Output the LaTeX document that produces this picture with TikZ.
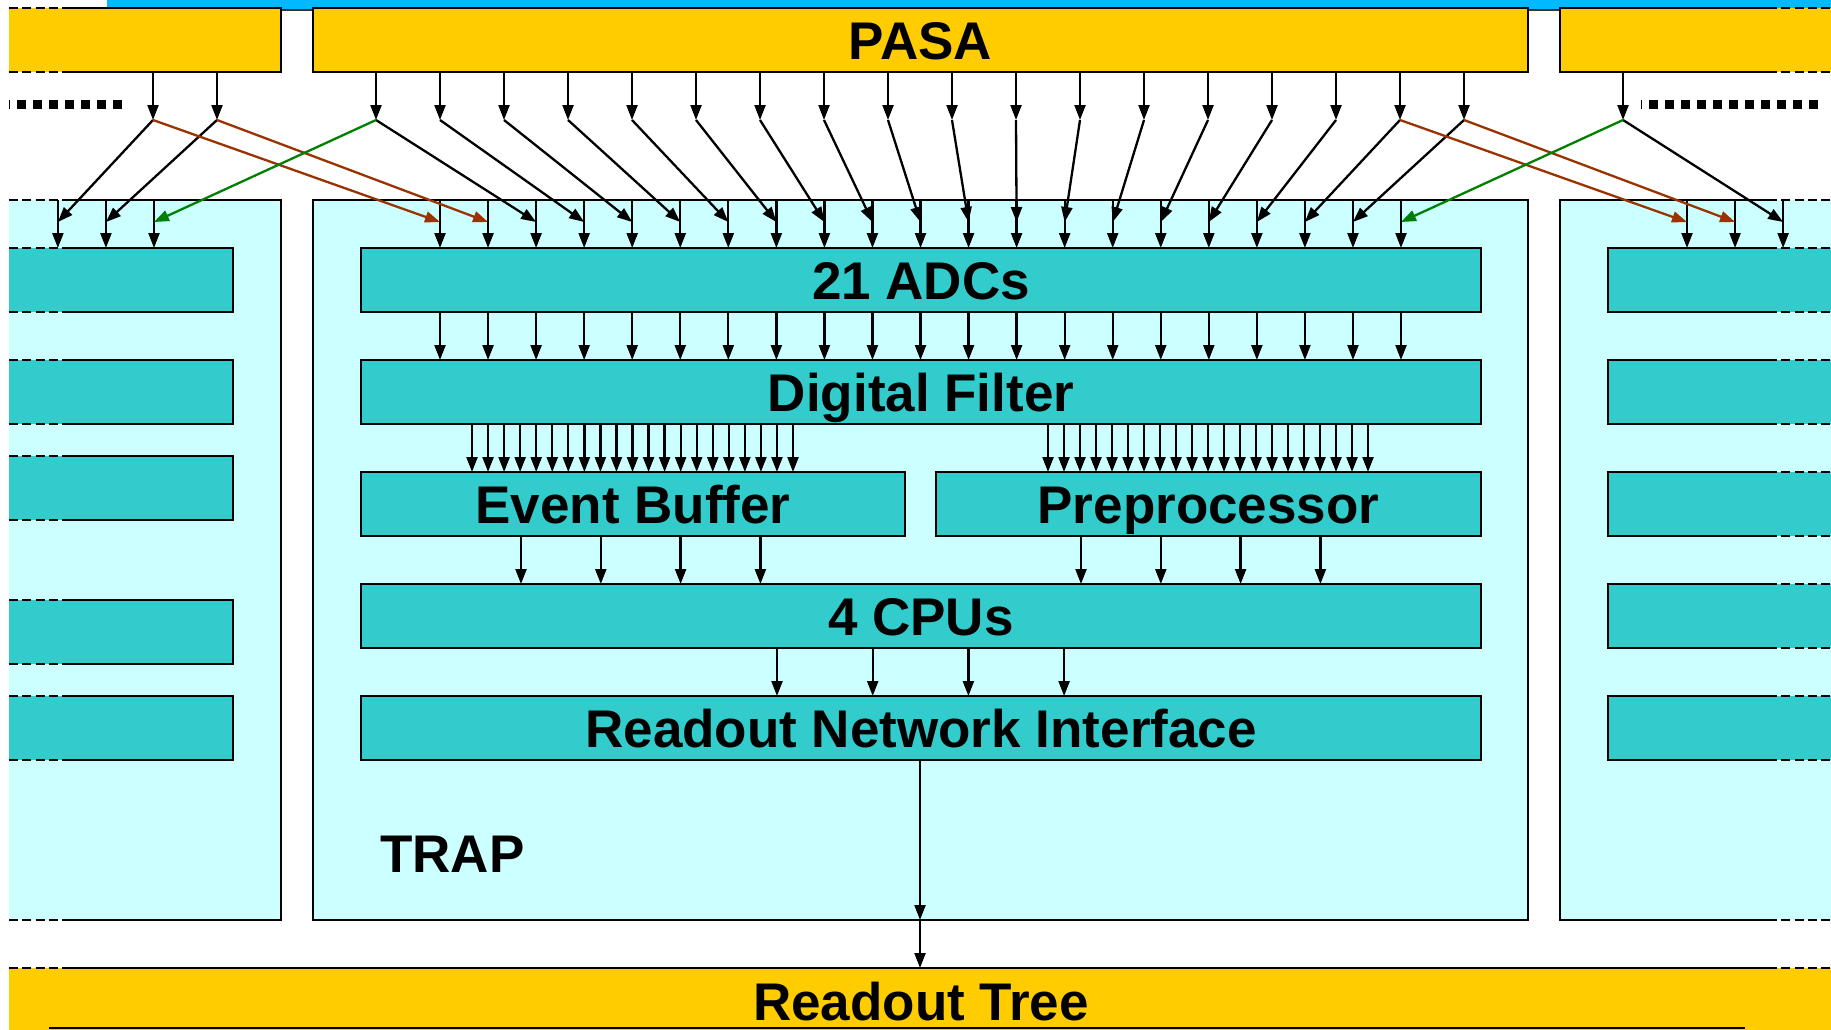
\documentclass[tikz,border=0pt]{standalone}
\usepackage{fontspec}
\setmainfont{Liberation Sans}
\usetikzlibrary{arrows.meta,calc}
\definecolor{pasayellow}{HTML}{FFCC00}
\definecolor{chipcyan}{HTML}{CCFFFF}
\definecolor{blockteal}{HTML}{33CCCC}
\definecolor{busblue}{HTML}{00B9FF}
\definecolor{crossbrown}{HTML}{993300}
\definecolor{crossgreen}{HTML}{008000}
\begin{document}
\begin{tikzpicture}[x=1pt,y=-1pt,
  edge/.style={line width=2.2pt},
  dashedge/.style={line width=2.2pt, dash pattern=on 9pt off 4.3pt},
  dashedgeR/.style={line width=2.2pt, dash pattern=on 9pt off 4.3pt, dash phase=9pt},
  arr/.style={line width=2.3pt, -{Triangle[length=15pt,width=11pt]}},
  brownarr/.style={arr, draw=crossbrown, fill=crossbrown},
  greenarr/.style={arr, draw=crossgreen, fill=crossgreen},
  area/.style={rectangle, inner sep=0pt, outer sep=0pt},
  blockbox/.style={area, draw=black, line width=2.2pt, fill=blockteal},
  lbl/.style={font=\fontsize{53}{60}\selectfont\bfseries, inner sep=0pt},
  squaredots/.style={line width=9pt, dash pattern=on 8.5pt off 7.5pt, dash phase=8pt}
]
\useasboundingbox (0,0) rectangle (1831,1029);
\clip (0,0) rectangle (1831,1029);
\fill[white] (0,0) rectangle (1831,1029);

% ---------------- bus along the top ----------------
\fill[busblue] (107,-10) rectangle (1850,10);
\draw[line width=1.5pt, black!80] (107,10) -- (1850,10);

% ---------------- left neighbour chip ----------------
\node[area, minimum width=272pt, minimum height=64pt] (pasaL) at (145,40) {};
\fill[pasayellow] (pasaL.north west) rectangle (pasaL.south east);
\draw[edge] (62,8) -- (281,8) -- (281,72) -- (62,72);
\draw[dashedge] (9,8) -- (62,8) (9,72) -- (62,72);

\node[area, minimum width=272pt, minimum height=720pt] (trapL) at (145,560) {};
\fill[chipcyan] (trapL.north west) rectangle (trapL.south east);
\draw[edge] (62,200) -- (281,200) -- (281,920) -- (62,920);
\draw[dashedge] (9,200) -- (62,200) (9,920) -- (62,920);

\foreach \top [count=\n] in {248,360,456,600,696} {
  \node[area, minimum width=224pt, minimum height=64pt] (blkL\n) at (121,\top+32) {};
  \fill[blockteal] (blkL\n.north west) rectangle (blkL\n.south east);
  \draw[edge] (62,\top) -- (233,\top) -- (233,\top+64) -- (62,\top+64);
  \draw[dashedge] (9,\top) -- (62,\top) (9,\top+64) -- (62,\top+64);
}

% ---------------- right neighbour chip ----------------
\node[area, minimum width=280pt, minimum height=64pt] (pasaR) at (1700,40) {};
\fill[pasayellow] (pasaR.north west) rectangle (pasaR.south east);
\draw[edge] (1777,8) -- (1560,8) -- (1560,72) -- (1777,72);
\draw[dashedgeR] (1777,8) -- (1840,8) (1777,72) -- (1840,72);

\node[area, minimum width=280pt, minimum height=720pt] (trapR) at (1700,560) {};
\fill[chipcyan] (trapR.north west) rectangle (trapR.south east);
\draw[edge] (1777,200) -- (1560,200) -- (1560,920) -- (1777,920);
\draw[dashedgeR] (1777,200) -- (1840,200) (1777,920) -- (1840,920);

\foreach \top [count=\n] in {248,360,472,584,696} {
  \node[area, minimum width=232pt, minimum height=64pt] (blkR\n) at (1724,\top+32) {};
  \fill[blockteal] (blkR\n.north west) rectangle (blkR\n.south east);
  \draw[edge] (1777,\top) -- (1608,\top) -- (1608,\top+64) -- (1777,\top+64);
  \draw[dashedgeR] (1777,\top) -- (1840,\top) (1777,\top+64) -- (1840,\top+64);
}

% ---------------- central chip: PASA and TRAP ----------------
\node[area, draw=black, line width=2.2pt, fill=pasayellow,
      minimum width=1215pt, minimum height=64pt] (pasa) at (920.5,40) {};
\node[lbl, anchor=base] (pasatxt) at ($(pasa.center)+(0,19)$) {PASA};

\node[area, draw=black, line width=2.2pt, fill=chipcyan,
      minimum width=1215pt, minimum height=720pt] (trap) at (920.5,560) {};
\node[lbl, anchor=base west] (traptxt) at (380,872) {TRAP};

\node[blockbox, minimum width=1120pt, minimum height=64pt] (adc) at (921,280) {};
\node[blockbox, minimum width=1120pt, minimum height=64pt] (df)  at (921,392) {};
\node[blockbox, minimum width=544pt,  minimum height=64pt] (eb)  at (633,504) {};
\node[blockbox, minimum width=545pt,  minimum height=64pt] (pp)  at (1208.5,504) {};
\node[blockbox, minimum width=1120pt, minimum height=64pt] (cpu) at (921,616) {};
\node[blockbox, minimum width=1120pt, minimum height=64pt] (rni) at (921,728) {};

\node[lbl, anchor=base] (adctxt) at ($(adc.center)+(0,19)$) {21 ADCs};
\node[lbl, anchor=base] (dftxt)  at ($(df.center)+(0,19)$) {Digital Filter};
\node[lbl, anchor=base] (ebtxt)  at ($(eb.center)+(0,19)$) {Event Buffer};
\node[lbl, anchor=base] (pptxt)  at ($(pp.center)+(0,19)$) {Preprocessor};
\node[lbl, anchor=base] (cputxt) at ($(cpu.center)+(0,19)$) {4 CPUs};
\node[lbl, anchor=base] (rnitxt) at ($(rni.center)+(0,19)$) {Readout Network Interface};

% ---------------- readout tree ----------------
\node[area, minimum width=1831pt, minimum height=72pt] (tree) at (924.5,1004) {};
\fill[pasayellow] (tree.north west) rectangle (tree.south east);
\draw[line width=2.6pt] (62,968) -- (1777,968);
\draw[line width=2.6pt, dash pattern=on 9pt off 4.3pt] (9,968) -- (62,968);
\draw[line width=2.6pt, dash pattern=on 9pt off 4.3pt, dash phase=9pt] (1777,968) -- (1840,968);
\draw[line width=2pt] (49,1028) -- (1745,1028);
\node[lbl, anchor=base] (treetxt) at (921,1020) {Readout Tree};

% ---------------- continuation marks ----------------
\coordinate (dotsLa) at (9,104);   \coordinate (dotsLb) at (122,104);
\coordinate (dotsRa) at (1641,104); \coordinate (dotsRb) at (1818,104);
\draw[squaredots] (dotsLa) -- (dotsLb);
\draw[squaredots] (dotsRa) -- (dotsRb);

% ---------------- PASA taps and ADC inputs ----------------
\foreach \j in {16,17} \coordinate (pl\j) at ({376+64*\j-1247},120);
\foreach \j in {0,...,17} \coordinate (pm\j) at ({376+64*\j},120);
\coordinate (pr0) at (1623,120);
\foreach \k in {18,19,20} \coordinate (al\k) at ({440+48.05*\k-1247},222);
\foreach \k in {0,...,20} \coordinate (am\k) at ({440+48.05*\k},222);
\foreach \k in {0,1,2} \coordinate (ar\k) at ({440+48.05*\k+1247},222);

% PASA outputs
\foreach \j in {16,17} \draw[arr] (pasaL.south -| pl\j) -- (pl\j);
\foreach \j in {0,...,17} \draw[arr] (pasa.south -| pm\j) -- (pm\j);
\draw[arr] (pasaR.south -| pr0) -- (pr0);

% ADC inputs inside each chip
\foreach \k in {18,19,20} \draw[arr] (trapL.north -| al\k) -- (blkL1.north -| al\k);
\foreach \k in {0,...,20} \draw[arr] (trap.north -| am\k) -- (adc.north -| am\k);
\foreach \k in {0,1,2} \draw[arr] (trapR.north -| ar\k) -- (blkR1.north -| ar\k);

% channel routing within a chip
\draw[arr] (pl16) -- (al18);
\draw[arr] (pl17) -- (al19);
\foreach \j [evaluate=\j as \k using {int(\j+2)}] in {0,...,17} \draw[arr] (pm\j) -- (am\k);
\draw[arr] (pr0) -- (ar2);

% channels shared with the neighbouring chips
\draw[brownarr] (pl16) -- (am0);
\draw[brownarr] (pl17) -- (am1);
\draw[brownarr] (pm16) -- (ar0);
\draw[brownarr] (pm17) -- (ar1);
\draw[greenarr] (pm0) -- (al20);
\draw[greenarr] (pr0) -- (am20);

% ---------------- data path inside TRAP ----------------
\foreach \k in {0,...,20} \draw[arr] (adc.south -| am\k) -- (df.north -| am\k);

\foreach \i in {0,...,20} {
  \coordinate (ebin\i) at ({472+16.05*\i},0);
  \coordinate (ppin\i) at ({1048+16*\i},0);
  \draw[arr] (df.south -| ebin\i) -- (eb.north -| ebin\i);
  \draw[arr] (df.south -| ppin\i) -- (pp.north -| ppin\i);
}

\foreach \i in {0,...,3} {
  \coordinate (ebout\i) at ({521+79.8*\i},0);
  \coordinate (ppout\i) at ({1081+79.8*\i},0);
  \coordinate (cpuout\i) at ({777+95.7*\i},0);
  \draw[arr] (eb.south -| ebout\i) -- (cpu.north -| ebout\i);
  \draw[arr] (pp.south -| ppout\i) -- (cpu.north -| ppout\i);
  \draw[arr] (cpu.south -| cpuout\i) -- (rni.north -| cpuout\i);
}

\coordinate (trapexit) at (920,920);
\draw[arr] (rni.south -| trapexit) -- (trapexit);
\draw[arr] (trapexit) -- (tree.north -| trapexit);

\end{tikzpicture}
\end{document}
